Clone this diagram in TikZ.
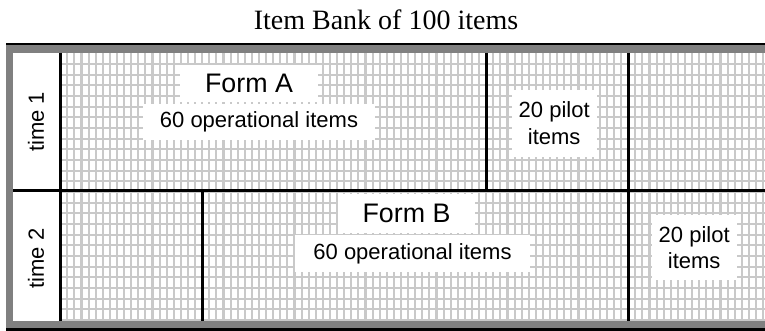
\documentclass[tikz,border=0pt]{standalone}
\usepackage{fontspec}
\setmainfont{Liberation Serif}
\newfontfamily\boxfont{Liberation Sans}
\usetikzlibrary{positioning}

\begin{document}
\begin{tikzpicture}[
  x=0.5pt, y=-0.5pt,
  every node/.style={font=\boxfont\fontsize{11}{13.3}\selectfont},
  gridline/.style={draw=black!21,line width=1.05pt},
  divider/.style={draw=black,line width=1.5pt},
  frame/.style={draw=black!50,line width=3.7pt},
  labelbox/.style={fill=white,inner sep=0pt,align=center},
  formlabel/.style={labelbox,font=\boxfont\fontsize{13.4}{16}\selectfont}
]
\useasboundingbox (0,0) rectangle (765,331);

% title
\node[anchor=base,font=\rmfamily\fontsize{14}{17}\selectfont] (title) at (386,30)
  {Item Bank of 100 items};

% background grid of the item area
\fill[white] (13,53) rectangle (765,321);
\foreach \i in {0,...,98}
  \draw[gridline] ({67.3+7.1*\i},53) -- ({67.3+7.1*\i},321);
\foreach \j in {0,...,24}
  \draw[gridline] (60,{64+10.67*\j}) -- (765,{64+10.67*\j});

% outer frame
\draw[frame] (765,49) -- (9.7,49) -- (9.7,324.7) -- (765,324.7);
\draw[black,line width=1pt] (6,43.7) -- (765,43.7);
\draw[black,line width=1.7pt] (6,330) -- (765,330);

% rows and form boundaries
\draw[divider] (13,191) -- (765,191);
\draw[divider] (60.5,53) -- (60.5,321);
\draw[divider] (486,53) -- (486,191);
\draw[divider] (628,53) -- (628,321);
\draw[divider] (202,191) -- (202,321);

% time labels
\node[rotate=90] (time1) at (36,122) {time 1};
\node[rotate=90] (time2) at (36,258.5) {time 2};

% time 1: Form A and its pilot block
\node[formlabel,minimum width=69pt,minimum height=18.5pt] (formA) at (249,83.5) {Form A};
\node[labelbox,minimum width=116pt,minimum height=18pt] (opsA) at (259,122)
  {60 operational items};
\node[labelbox,minimum width=42.5pt,minimum height=33.3pt] (pilotA) at (554.2,123.3)
  {20 pilot\\items};

% time 2: Form B and its pilot block
\node[formlabel,minimum width=68.5pt,minimum height=19.5pt] (formB) at (406.5,213.5) {Form B};
\node[labelbox,minimum width=117.5pt,minimum height=18.5pt] (opsB) at (412.5,253.5)
  {60 operational items};
\node[labelbox,minimum width=42.5pt,minimum height=32.5pt] (pilotB) at (694.2,247.5)
  {20 pilot\\items};

\end{tikzpicture}
\end{document}
